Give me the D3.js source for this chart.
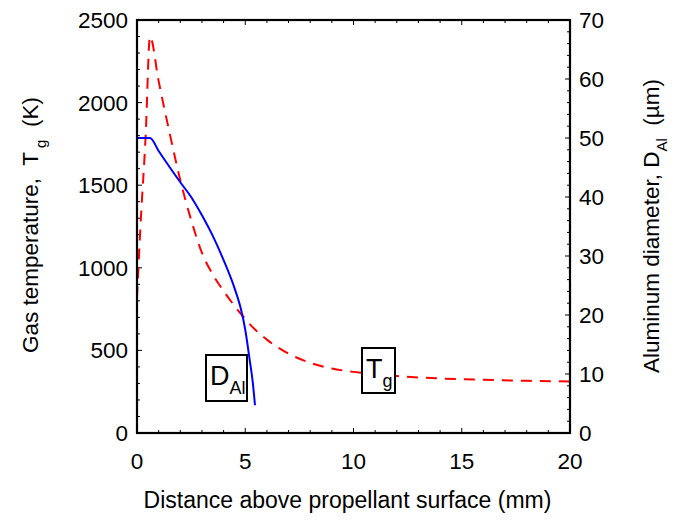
<!DOCTYPE html>
<html>
<head>
<meta charset="utf-8">
<script src="https://cdn.jsdelivr.net/npm/d3@7"></script>
<style>
  body { margin: 0; background: #fff; }
  svg text { font-family: "Liberation Sans", Arial, Helvetica, sans-serif; fill: #000; white-space: pre; }
</style>
</head>
<body>
<svg id="chart" width="675" height="522"></svg>
<script>
// gas temperature (red dashed), K vs mm
const tgX = [0, 0.18, 0.4, 0.6, 1, 1.5, 2, 2.5, 3, 3.5, 4, 4.5, 5, 5.5, 6, 7, 8, 9, 10, 12, 14, 16, 18, 20];
const tgY = [820, 1300, 1800, 2400, 2130, 1820, 1530, 1290, 1090, 960, 860, 770, 690, 620, 565, 480, 425, 390, 370, 345, 330, 322, 316, 312];
// aluminum diameter (blue solid), µm vs mm
const dX = [0, 0.6, 1, 2, 2.5, 3, 3.5, 4, 4.5, 4.8, 5, 5.2, 5.35, 5.45];
const dY = [50, 50, 47.8, 42.5, 40, 36.9, 33.4, 29.3, 24.6, 21, 17.5, 12.5, 8.5, 4.7];

const xTicks = [0, 5, 10, 15, 20];
const leftTicks = [0, 500, 1000, 1500, 2000, 2500];
const rightTicks = [0, 10, 20, 30, 40, 50, 60, 70];

const svg = d3.select('#chart');
const L = 137, R = 570, T = 20, B = 433;

const x = d3.scaleLinear().domain([0, 20]).range([L, R]);
const yL = d3.scaleLinear().domain([0, 2500]).range([B, T]);
const yR = d3.scaleLinear().domain([0, 70]).range([B, T]);

const FS = 22.5;

// minor ticks (inward)
const g = svg.append('g');
d3.range(0, 21, 1).forEach(v => {
  const len = v % 5 === 0 ? 5 : 3;
  g.append('line').attr('x1', x(v)).attr('x2', x(v)).attr('y1', B).attr('y2', B - len).attr('stroke', '#000');
  g.append('line').attr('x1', x(v)).attr('x2', x(v)).attr('y1', T).attr('y2', T + len).attr('stroke', '#000');
});
d3.range(0, 2501, 100).forEach(v => {
  const len = v % 500 === 0 ? 5 : 3;
  g.append('line').attr('x1', L).attr('x2', L + len).attr('y1', yL(v)).attr('y2', yL(v)).attr('stroke', '#000');
});
d3.range(0, 71, 2).forEach(v => {
  const len = v % 10 === 0 ? 5 : 3;
  g.append('line').attr('x1', R).attr('x2', R - len).attr('y1', yR(v)).attr('y2', yR(v)).attr('stroke', '#000');
});

// tick labels
svg.selectAll('.xt').data(xTicks).join('text')
  .attr('x', d => x(d)).attr('y', B + 36)
  .attr('text-anchor', 'middle').attr('font-size', FS).text(d => d);
svg.selectAll('.yl').data(leftTicks).join('text')
  .attr('x', L - 9).attr('y', d => yL(d) + 8)
  .attr('text-anchor', 'end').attr('font-size', FS).text(d => d);
svg.selectAll('.yr').data(rightTicks).join('text')
  .attr('x', R + 9).attr('y', d => yR(d) + 8)
  .attr('text-anchor', 'start').attr('font-size', FS).text(d => d);

// curves
svg.append('clipPath').attr('id', 'clip').append('rect')
  .attr('x', L).attr('y', T).attr('width', R - L).attr('height', B - T);

const lineT = d3.line().x(d => x(d[0])).y(d => yL(d[1])).curve(d3.curveMonotoneX);
const lineD = d3.line().x(d => x(d[0])).y(d => yR(d[1])).curve(d3.curveMonotoneX);

svg.append('path').datum(tgX.map((v, i) => [v, tgY[i]]))
  .attr('d', lineT)
  .attr('fill', 'none').attr('stroke', '#ff0000').attr('stroke-width', 2)
  .attr('stroke-dasharray', '11,8').attr('clip-path', 'url(#clip)');

svg.append('path').datum(dX.map((v, i) => [v, dY[i]]))
  .attr('d', lineD)
  .attr('fill', 'none').attr('stroke', '#0000ff').attr('stroke-width', 2)
  .attr('clip-path', 'url(#clip)');

// frame
svg.append('rect').attr('x', L).attr('y', T).attr('width', R - L).attr('height', B - T)
  .attr('fill', 'none').attr('stroke', '#000').attr('stroke-width', 2.2);

// label boxes
function labelBox(bx, by, bw, bh, main, sub) {
  svg.append('rect').attr('x', bx).attr('y', by).attr('width', bw).attr('height', bh)
    .attr('fill', '#fff').attr('stroke', '#000').attr('stroke-width', 2);
  const t = svg.append('text').attr('x', bx + 4).attr('y', by + 30).attr('font-size', 27);
  t.append('tspan').text(main);
  t.append('tspan').attr('font-size', 18).attr('dy', 9).text(sub);
}
labelBox(206, 355, 41, 46, 'D', 'Al');
labelBox(362, 348, 33, 45, 'T', 'g');

// axis titles
svg.append('text').attr('x', (L + R) / 2 - 6).attr('y', 508)
  .attr('text-anchor', 'middle').attr('font-size', 23)
  .text('Distance above propellant surface (mm)');

const lt = svg.append('text').attr('transform', `translate(38,225) rotate(-90)`)
  .attr('text-anchor', 'middle').attr('font-size', FS);
lt.append('tspan').text('Gas temperature,  T');
lt.append('tspan').attr('font-size', 15).attr('dy', 8).text(' g');
lt.append('tspan').attr('dy', -8).text('  (K)');

const rt = svg.append('text').attr('transform', `translate(659,226) rotate(-90)`)
  .attr('text-anchor', 'middle').attr('font-size', FS);
rt.append('tspan').text('Aluminum diameter, D');
rt.append('tspan').attr('font-size', 15).attr('dy', 8).text('Al');
rt.append('tspan').attr('dy', -8).text('  (\u00b5m)');
</script>
</body>
</html>
